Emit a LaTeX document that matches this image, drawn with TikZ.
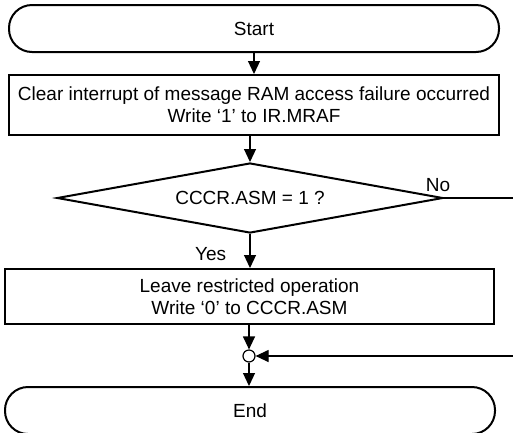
\documentclass[tikz,border=0pt]{standalone}
\usepackage{fontspec}
\setmainfont{Liberation Sans}
\usetikzlibrary{shapes.geometric, arrows.meta}
\tikzset{
    startstop/.style={rectangle, rounded corners=23pt, minimum width=490pt, minimum height=47pt, text centered, draw=black, line width=2pt},
    process/.style={rectangle, minimum width=490pt, minimum height=60pt, align=center, draw=black, line width=2pt},
    decision/.style={diamond, aspect=5.5, minimum width=386pt, minimum height=70pt, inner sep=0pt, text centered, draw=black, line width=2pt},
    junction/.style={circle, minimum size=12pt, inner sep=0pt, draw=black, line width=1.2pt, fill=white},
    arrow/.style={line width=1.2pt, -{Triangle[length=13pt, width=12pt]}},
    flowline/.style={line width=1.2pt}
}
\begin{document}
\begin{tikzpicture}[x=1pt, y=-1pt, font=\fontsize{19}{22}\selectfont]
    \useasboundingbox (0,0) rectangle (513,432);
    \node (start) [startstop] at (254,28.5) {Start};
    \node (clear) [process] at (254,105) {Clear interrupt of message RAM access failure occurred\\Write ‘1’ to IR.MRAF};
    \node (asm) [decision] at (250,198) {CCCR.ASM = 1 ?};
    \node (leave) [process, minimum width=489pt, minimum height=55pt] at (249.5,296.5) {Leave restricted operation\\Write ‘0’ to CCCR.ASM};
    \node (merge) [junction] at (249,356) {};
    \node (stop) [startstop] at (250,410.5) {End};
    \coordinate (noend) at (513,198);
    \coordinate (back) at (513,356);

    \draw [arrow] (start) -- (clear);
    \draw [arrow] (clear.south -| asm.north) -- (asm.north);
    \draw [arrow] (asm.south) -- node[left=20pt, yshift=-3pt] {Yes} (asm.south |- leave.north);
    \draw [arrow] (leave.south -| merge) -- (merge);
    \draw [arrow] (merge) -- (merge |- stop.north);
    \draw [flowline] (asm.east) -- (noend);
    \node (no) [anchor=south, inner sep=1pt] at ([xshift=-6pt, yshift=5pt]asm.east) {No};
    \draw [arrow] (back) -- (merge);
\end{tikzpicture}
\end{document}
